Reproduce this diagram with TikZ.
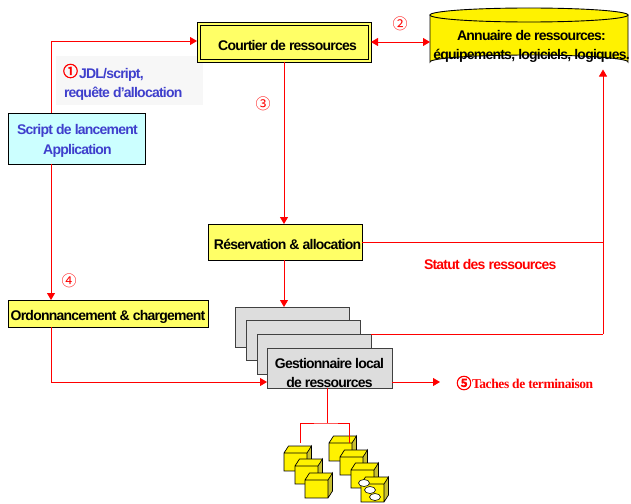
\documentclass[tikz,border=0pt]{standalone}
\usepackage{fontspec}
\setmainfont{Liberation Sans}[LetterSpace=-5.5]
\newfontfamily\taskfont{Liberation Serif}[LetterSpace=-3]
\newfontfamily\numfont{Noto Sans CJK JP}
\newfontfamily\numboldfont{Noto Sans CJK JP}[FakeBold=4]
\usetikzlibrary{arrows.meta,calc}
\definecolor{boxyellow}{HTML}{FFFF66}
\definecolor{boxcyan}{HTML}{CCFFFF}
\definecolor{boxgrey}{HTML}{DDDDDD}
\definecolor{bluetext}{HTML}{3F3FCC}
\definecolor{notegrey}{HTML}{F7F7F7}
\tikzset{
  every node/.style={inner sep=0pt,outer sep=0pt,font=\fontsize{14}{19.5}\selectfont\bfseries,align=center},
  flow/.style={red,line width=0.9pt},
  arrowed/.style={flow,-{Triangle[length=7pt,width=8pt]}},
  twoway/.style={flow,{Triangle[length=7pt,width=8pt]}-{Triangle[length=7pt,width=8pt]}},
  yellowbox/.style={draw=black,line width=0.9pt,fill=boxyellow},
  greybox/.style={draw=black!75,line width=1pt,fill=boxgrey},
  num/.style={red,font=\fontsize{15}{16}\selectfont\numfont},
  numbold/.style={red,font=\fontsize{15}{16}\selectfont\numboldfont},
}
\newcommand{\boxat}[8][]{% label options, name, style, x0, y0, x1, y1, text
  \node[#3,minimum width=#6pt-#4pt,minimum height=#7pt-#5pt,label={[#1]center:{#8}}] (#2) at ({(#4+#6)/2},{(#5+#7)/2}) {};}
\newcommand{\cubeat}[2]{%
  \fill[yellow!75!black] (#1+23,#2) -- ++(4.5,-7) -- ++(0,18) -- ++(-4.5,7) -- cycle;
  \fill[yellow] (#1,#2) -- ++(4.5,-7) -- ++(23,0) -- ++(-4.5,7) -- cycle;
  \fill[yellow] (#1,#2) rectangle ++(23,18);
  \draw[black,line width=0.7pt] (#1+23,#2) -- ++(4.5,-7) -- ++(0,18) -- ++(-4.5,7) (#1,#2) -- ++(4.5,-7) -- ++(23,0) (#1,#2) rectangle ++(23,18);}
\begin{document}
\begin{tikzpicture}[x=1pt,y=-1pt]
\useasboundingbox (0,0) rectangle (631,503);
\fill[white] (0,0) rectangle (631,503);
% note background
\fill[notegrey] (56,56) rectangle (203,105);
% cylinder
\path[fill=yellow,draw=black,line width=0.9pt] (430,15) -- (430,62) arc[start angle=180,end angle=360,x radius=99,y radius=7] -- (628,15) -- cycle;
\draw[fill=yellow,draw=black,line width=0.9pt] (529,15) ellipse[x radius=99,y radius=7];
\node[minimum width=198pt,minimum height=62pt,label={[yshift=-8pt,xshift=2.5pt]center:{Annuaire de ressources:\\équipements, logiciels, logiques.}}] (annuaire) at (529,38.5) {};
% boxes
\boxat[yshift=-3pt,xshift=3.5pt]{courtier}{yellowbox}{197}{22}{371}{62}{Courtier de ressources}
\draw[black,line width=0.7pt] (200,25) rectangle (368,59);
\boxat[yshift=-2.5pt,xshift=1pt,text=bluetext]{script}{draw=black,line width=0.9pt,fill=boxcyan}{8}{113}{145}{164}{Script de lancement\\Application}
\boxat[yshift=-2pt,xshift=2.5pt]{resa}{yellowbox}{208}{224}{362}{260}{Réservation \& allocation}
\boxat[yshift=-3pt]{ordo}{yellowbox}{8}{300}{208}{327}{Ordonnancement \& chargement}
\boxat{g1}{greybox}{235}{307}{349}{347}{}
\boxat{g2}{greybox}{246}{320}{360}{360}{}
\boxat{g3}{greybox}{257}{334}{371}{374}{}
\boxat[yshift=-5pt]{gest}{greybox}{267}{348}{392}{388}{Gestionnaire local\\de ressources}
% labels
\node[anchor=west,text=bluetext,align=left] (jdl) at (64,83) {\phantom{\fontsize{15}{16}\selectfont\numfont①}JDL/script,\\requête d'allocation};
\node[numbold] (n1) at (70.5,71) {①};
\node[num] (n2) at (400,24) {②};
\node[num] (n3) at (263,104) {③};
\node[num] (n4) at (69,281) {④};
\node[numbold] (n5) at (464,383) {⑤};
\node[text=red,anchor=west] (statut) at (424,264) {Statut des ressources};
\node[text=red,anchor=west,font=\fontsize{13.5}{16}\selectfont\bfseries\taskfont] (taches) at (472,384) {Taches de terminaison};
% connector end points
\coordinate (leftrail) at (51,41);
\coordinate (statusrail) at (603,243);
\coordinate (gestout) at (440,382);
\coordinate (branch) at (327,423);
\coordinate (cubesA) at (300,443);
\coordinate (cubesB) at (349,443);
% connectors
\draw[arrowed] (script.north -| leftrail) -- (leftrail) -- (courtier.west |- leftrail);
\draw[arrowed] (script.south -| leftrail) -- (ordo.north -| leftrail);
\draw[arrowed] (ordo.south -| leftrail) |- (gest.west |- gestout);
\draw[twoway] (courtier.east) -- (courtier.east -| annuaire.west);
\draw[arrowed] (courtier.south) -- (resa.north -| courtier.south);
\draw[arrowed] (resa.south -| courtier.south) -- (g1.north -| courtier.south);
\draw[flow] (resa.east) -- (resa.east -| statusrail);
\draw[flow] (g3.north east) -- (g3.north east -| statusrail);
\draw[arrowed] (g3.north east -| statusrail) -- (annuaire.south -| statusrail);
\draw[arrowed] (gest.east |- gestout) -- (gestout);
% cubes
\cubeat{284}{453}
\cubeat{295}{466}
\cubeat{305}{480}
\cubeat{329}{443}
\cubeat{340}{457}
\cubeat{351}{470}
\cubeat{361}{484}
\foreach \ex/\ey in {364/483,370/490,375/497}
  \draw[black,fill=white,line width=0.6pt] (\ex,\ey) ellipse[x radius=5.5,y radius=3.5];
% local manager to nodes
\draw[flow] (gest.south -| branch) -- (branch);
\draw[flow] (cubesA) |- (branch) -| (cubesB);
\end{tikzpicture}
\end{document}
